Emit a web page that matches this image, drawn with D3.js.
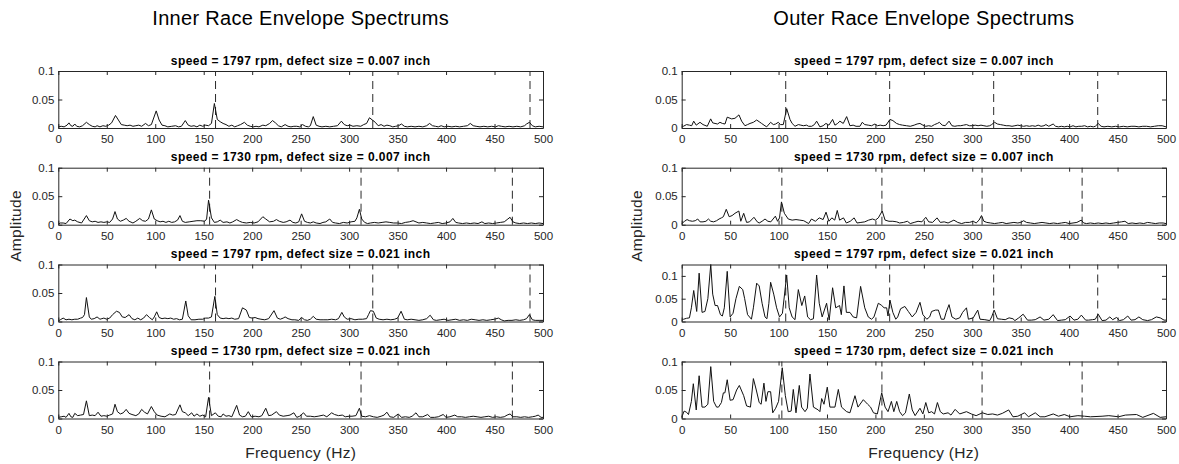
<!DOCTYPE html>
<html>
<head>
<meta charset="utf-8">
<script src="https://cdn.jsdelivr.net/npm/d3@7"></script>
<style>
  html, body { margin: 0; padding: 0; background: #fff; }
  svg { display: block; font-family: "Liberation Sans", Arial, Helvetica, sans-serif; }
</style>
</head>
<body>
<svg id="chart" width="1179" height="464"></svg>
<script>
// ---------------- DATA ----------------
const figureTitles = ["Inner Race Envelope Spectrums", "Outer Race Envelope Spectrums"];
const panelTitles = [
  "speed = 1797 rpm, defect size = 0.007 inch",
  "speed = 1730 rpm, defect size = 0.007 inch",
  "speed = 1797 rpm, defect size = 0.021 inch",
  "speed = 1730 rpm, defect size = 0.021 inch"
];
const xLabel = "Frequency (Hz)";
const yLabel = "Amplitude";
const freqTicks = [0, 50, 100, 150, 200, 250, 300, 350, 400, 450, 500];
const ampTicks = [0, 0.05, 0.1];
const freqDomain = [0, 500];
// y-axis upper limits: inner race rows 1-4, outer race rows 1-4
const innerYMax = [0.1, 0.1, 0.1, 0.1];
const outerYMax = [0.1, 0.1, 0.125, 0.1];

// fault characteristic frequencies and harmonics (Hz)
const bpfi1797 = [162.2, 324.4, 486.6];
const bpfi1730 = [156.1, 312.3, 468.4];
const bpfo1797 = [107.4, 214.7, 322.1, 429.5];
const bpfo1730 = [103.4, 206.7, 310.1, 413.4];

// envelope spectra: [frequency Hz, amplitude]
const inner1797_007 = [[0,.002],[3,.003],[6,.002],[9,.005],[11,.009],[13,.004],[15,.003],[17,.007],[19,.003],[22,.002],[25,.004],[29,.01],[32,.006],[35,.003],[38,.002],[40,.004],[43,.002],[46,.004],[49,.003],[52,.005],[55,.009],[59,.022],[62,.014],[65,.006],[68,.005],[71,.004],[74,.005],[77,.003],[80,.004],[83,.005],[86,.003],[90,.008],[93,.004],[96,.006],[101,.03],[104,.014],[107,.005],[110,.004],[113,.002],[117,.003],[121,.004],[124,.002],[127,.003],[131,.013],[134,.005],[137,.003],[140,.004],[143,.002],[146,.005],[149,.003],[152,.005],[155,.004],[158,.008],[161,.043],[164,.015],[167,.011],[170,.008],[173,.006],[176,.003],[179,.005],[182,.002],[185,.004],[188,.006],[192,.01],[195,.005],[198,.003],[201,.002],[204,.003],[207,.002],[211,.005],[214,.004],[218,.008],[221,.013],[224,.009],[227,.004],[230,.002],[234,.006],[237,.003],[240,.002],[243,.003],[246,.003],[249,.002],[252,.006],[255,.003],[258,.002],[260,.004],[263,.02],[266,.005],[269,.003],[272,.002],[276,.003],[280,.002],[284,.003],[288,.004],[292,.012],[295,.006],[298,.004],[301,.005],[304,.003],[308,.004],[312,.003],[315,.006],[318,.008],[321,.018],[324,.014],[327,.01],[330,.004],[333,.006],[336,.003],[339,.005],[342,.004],[345,.002],[348,.003],[351,.004],[354,.007],[357,.003],[360,.002],[364,.003],[368,.002],[372,.003],[376,.002],[380,.004],[383,.008],[386,.004],[389,.003],[392,.002],[395,.004],[398,.002],[402,.003],[406,.002],[410,.003],[414,.002],[418,.003],[422,.004],[425,.008],[428,.004],[431,.003],[435,.002],[439,.003],[443,.002],[447,.003],[451,.002],[454,.004],[457,.003],[461,.002],[465,.003],[469,.002],[473,.003],[477,.002],[481,.004],[483,.007],[486,.01],[489,.004],[492,.002],[496,.003],[500,.002]];

const inner1730_007 = [[0,.001],[2,.003],[5,.003],[8,.002],[12,.01],[15,.007],[17,.008],[20,.005],[24,.003],[29,.016],[32,.007],[35,.005],[38,.006],[41,.004],[44,.005],[47,.004],[50,.005],[53,.004],[56,.01],[58.5,.023],[61,.01],[64,.006],[67,.008],[70,.011],[73,.006],[77,.003],[80,.006],[84,.011],[87,.007],[90,.006],[93,.01],[96,.026],[99,.01],[102,.007],[105,.005],[108,.006],[111,.004],[114,.006],[117,.004],[120,.005],[123,.008],[125.5,.016],[128,.006],[131,.004],[135,.005],[139,.006],[143,.007],[147,.007],[151,.006],[153,.01],[155,.043],[158,.012],[161,.004],[164,.005],[167,.008],[170,.004],[174,.005],[177,.003],[180,.005],[184,.009],[187,.006],[190,.004],[194,.003],[198,.004],[202,.003],[206,.005],[211,.014],[214,.01],[218,.005],[222,.006],[225,.009],[228,.006],[232,.004],[235,.005],[239,.008],[242,.004],[245,.003],[248,.005],[251,.019],[254,.006],[257,.004],[260,.003],[263,.005],[266,.003],[270,.002],[273,.004],[276,.005],[280,.01],[283,.004],[286,.003],[290,.002],[294,.004],[298,.003],[302,.005],[306,.006],[308,.012],[310.6,.027],[313,.01],[316,.004],[319,.002],[322,.003],[326,.004],[330,.003],[334,.004],[338,.005],[342,.004],[346,.003],[350,.003],[354,.002],[358,.004],[362,.005],[366,.007],[369,.005],[372,.003],[376,.004],[380,.003],[384,.002],[388,.003],[392,.004],[396,.002],[400,.003],[404,.005],[407,.011],[410,.004],[413,.003],[417,.002],[421,.003],[425,.002],[429,.003],[433,.002],[437,.005],[440,.002],[444,.003],[448,.002],[452,.003],[456,.004],[460,.005],[463,.009],[466,.013],[469,.005],[472,.003],[476,.002],[480,.003],[484,.002],[488,.003],[492,.002],[496,.003],[500,.002]];

const inner1797_021 = [[0,.001],[2,.003],[5,.006],[8,.003],[11,.004],[14,.003],[17,.004],[20,.004],[23,.006],[25,.007],[27,.012],[29,.042],[32,.008],[34,.004],[37,.005],[40,.008],[43,.004],[45,.005],[47,.006],[50,.004],[53,.006],[56,.012],[60,.018],[63,.016],[66,.008],[69,.007],[73,.012],[76,.005],[79,.003],[82,.006],[85,.003],[88,.006],[91,.012],[94,.007],[97,.003],[99,.008],[101.5,.017],[104,.007],[107,.005],[110,.006],[113,.005],[116,.006],[119,.004],[122,.005],[125,.003],[128,.004],[131.5,.036],[134,.01],[137,.003],[141,.003],[145,.004],[149,.004],[152,.006],[155,.006],[158,.008],[161.5,.044],[164,.012],[167,.006],[170,.005],[173,.006],[176,.005],[179,.006],[182,.004],[186,.005],[190,.024],[194,.02],[197,.007],[200,.006],[203,.007],[206,.005],[209,.004],[213,.003],[217,.005],[222.5,.019],[226,.006],[229,.004],[232,.006],[234,.008],[237,.005],[241,.003],[244,.003],[248,.002],[251,.007],[254,.003],[257,.002],[260,.004],[263,.009],[266,.004],[270,.003],[274,.003],[278,.003],[282,.004],[286,.003],[289,.005],[292.5,.016],[295,.008],[298,.004],[302,.005],[306,.003],[310,.004],[314,.004],[318,.005],[320,.012],[322,.019],[325,.018],[328,.006],[331,.004],[335,.003],[339,.004],[343,.003],[347,.004],[350,.006],[353.6,.018],[357,.004],[360,.003],[364,.004],[368,.003],[372,.002],[376,.003],[380,.005],[383.6,.011],[387,.003],[390,.002],[394,.003],[398,.004],[402,.002],[406,.003],[410,.004],[414,.002],[418,.003],[422,.002],[426,.004],[430,.003],[434,.002],[438,.003],[442,.002],[446,.003],[450,.004],[454,.006],[457,.003],[460,.001],[464,.002],[468,.002],[472,.003],[476,.002],[480,.003],[483,.005],[486,.012],[489,.003],[492,.002],[496,.002],[500,.002]];

const inner1730_021 = [[0,.002],[3,.003],[6,.004],[8,.002],[11,.009],[13,.003],[15,.002],[17,.009],[20,.005],[23,.006],[26,.007],[29,.031],[32,.005],[35,.006],[38,.005],[41,.011],[44,.004],[47,.005],[50,.004],[53,.006],[56,.008],[58.5,.025],[61,.012],[64,.008],[67,.01],[70,.016],[73,.009],[76,.007],[80,.005],[83,.008],[86,.016],[89,.011],[92,.008],[96,.021],[99,.012],[102,.006],[106,.004],[110,.003],[115,.008],[118,.006],[121,.007],[125.5,.024],[128,.012],[131,.01],[134,.005],[137.6,.01],[140,.004],[143,.008],[146,.004],[149,.006],[152,.003],[155,.037],[158,.005],[162,.01],[165,.004],[168,.003],[170,.008],[173,.004],[176,.005],[179,.003],[184,.023],[187,.006],[190,.003],[193,.004],[196,.012],[199,.003],[203,.004],[207,.003],[210,.005],[214,.018],[217,.005],[220,.006],[225,.012],[228,.006],[232,.004],[236,.005],[239,.006],[243,.01],[246,.002],[249,.004],[253,.01],[256,.004],[260,.004],[264,.003],[268,.004],[273.5,.006],[277,.003],[282,.01],[285,.007],[289,.005],[293,.006],[296,.003],[300,.004],[303,.004],[307,.005],[310.6,.018],[313,.004],[317,.003],[321,.005],[325,.003],[329,.002],[333,.004],[336,.006],[339,.011],[342,.003],[346,.002],[350.7,.008],[354,.002],[358,.003],[362,.002],[365,.004],[369,.01],[372,.003],[376,.003],[381,.007],[384,.002],[388,.002],[392,.003],[397,.007],[400,.002],[404,.003],[409,.006],[412,.003],[416,.003],[420,.002],[424,.003],[428,.004],[432,.003],[436,.002],[440,.003],[444,.004],[448,.002],[452,.003],[456,.002],[460,.003],[463,.006],[466,.008],[469,.003],[473,.003],[477,.002],[481,.003],[485,.002],[489,.003],[492,.004],[495,.006],[498,.002],[500,.002]];

const outer1797_007 = [[0,.002],[1.7,.003],[5,.006],[8,.005],[10.3,.004],[12.4,.012],[15,.005],[18.9,.01],[22,.006],[26.4,.003],[29.9,.016],[32,.009],[34.4,.008],[37,.007],[39.5,.01],[42,.008],[44.7,.007],[47,.019],[51.6,.016],[55,.017],[59.1,.023],[61.9,.012],[65.3,.004],[68,.006],[70.5,.008],[74,.01],[77.4,.014],[80,.011],[82.5,.008],[85,.005],[87.7,.002],[91.8,.01],[94.6,.006],[97,.007],[99.7,.01],[102,.006],[104.9,.006],[108.4,.034],[111.8,.015],[114,.008],[117,.003],[120.4,.006],[123,.005],[125.6,.004],[129,.005],[131,.003],[134.2,.003],[137,.006],[139.3,.012],[142.7,.002],[146,.004],[148.9,.008],[152,.005],[155.8,.015],[158.2,.005],[161,.008],[163.3,.012],[166.8,.008],[170.3,.02],[173.7,.004],[177,.005],[180,.003],[184,.003],[186.4,.01],[189,.006],[192.6,.005],[196,.004],[199.5,.007],[202,.004],[205,.005],[208,.004],[211,.005],[215,.015],[218,.013],[221.8,.008],[225,.006],[228,.005],[232,.004],[236,.003],[240,.005],[243,.007],[246,.008],[249,.005],[252,.003],[255,.004],[258,.003],[261,.006],[264,.008],[266,.01],[269,.005],[272,.004],[276,.012],[279,.004],[282,.003],[285,.004],[288,.004],[291,.005],[294,.006],[297,.004],[300,.004],[303,.005],[306,.004],[309,.005],[312,.004],[315,.003],[318,.004],[320,.006],[323,.01],[326,.007],[329,.006],[332,.005],[335,.004],[338,.004],[341,.003],[344,.004],[347,.005],[350,.004],[353,.003],[356,.004],[359,.003],[362,.004],[365,.003],[368,.005],[371,.003],[374,.004],[376,.006],[379,.003],[383.5,.007],[386,.003],[389,.002],[392,.003],[395,.002],[398,.003],[401,.002],[404,.004],[407,.002],[410,.003],[413,.003],[416,.004],[419,.002],[422,.003],[425,.002],[427,.003],[430,.008],[433,.003],[436,.002],[440,.003],[444,.002],[448,.003],[452,.002],[456,.003],[460,.002],[464,.003],[468,.003],[472,.002],[476,.003],[480,.003],[484,.002],[488,.003],[492,.004],[496,.004],[500,.002]];

const outer1730_007 = [[0,.002],[3,.006],[5.5,.009],[8,.007],[11,.006],[14,.007],[16.5,.01],[19,.005],[22,.005],[25,.006],[27.6,.01],[30,.006],[33,.005],[36,.007],[38.6,.01],[41,.012],[43,.014],[46,.027],[49,.014],[52,.016],[55,.02],[59,.024],[61,.006],[64,.02],[67,.004],[70,.005],[74.6,.013],[78,.005],[80,.003],[83,.006],[86,.01],[89,.006],[92,.005],[96.7,.015],[99,.006],[101,.012],[103,.04],[106,.02],[110,.01],[114,.008],[118,.009],[122,.008],[126,.007],[131,.002],[134,.01],[138,.006],[142,.012],[146,.009],[149,.022],[152,.006],[155,.012],[158,.008],[160.6,.025],[163,.008],[167,.012],[170,.003],[174,.006],[178,.012],[181,.003],[185,.004],[189,.005],[193,.008],[197,.01],[200,.008],[203,.012],[207,.024],[210,.008],[214,.006],[218,.006],[222,.005],[225,.003],[229,.004],[233,.006],[236,.002],[240,.004],[244,.006],[248,.005],[252,.013],[255,.005],[259,.004],[263.6,.012],[267,.004],[271,.005],[275,.003],[281,.008],[285,.004],[289,.002],[293,.004],[297,.004],[301,.006],[304,.003],[307,.008],[309.5,.016],[312,.006],[315,.004],[319,.003],[323,.002],[327,.003],[331,.004],[335,.002],[339,.003],[343,.004],[347,.003],[350,.004],[353,.007],[356,.004],[360,.003],[364,.002],[368,.003],[372,.004],[376,.003],[380,.002],[384,.003],[388,.002],[392,.003],[396,.004],[400,.002],[404,.003],[408,.004],[412.5,.008],[415,.003],[418,.002],[422,.003],[426,.002],[430,.003],[434,.002],[438,.003],[442,.002],[446,.003],[450,.004],[454,.005],[457.6,.006],[461,.002],[465,.003],[469,.002],[473,.003],[477,.002],[481,.004],[485,.003],[489,.002],[493,.003],[497,.003],[500,.002]];

const outer1797_021 = [[0,.003],[2,.005],[5,.007],[8,.008],[10,.03],[12.4,.068],[15.5,.022],[18,.106],[21,.02],[24,.022],[27,.05],[30,.125],[32,.06],[34.5,.035],[37,.035],[40,.015],[42,.012],[44,.03],[47,.11],[50,.01],[53,.018],[56,.05],[59.5,.077],[63,.07],[65,.05],[68,.015],[72,.005],[74,.03],[77.4,.084],[80,.078],[83,.04],[86,.01],[88,.006],[90,.04],[91.8,.086],[95,.06],[98,.03],[101,.01],[104,.018],[108.4,.102],[111,.03],[114,.01],[117,.004],[120.4,.07],[124,.035],[127,.056],[130,.01],[133,.004],[136,.006],[139.3,.102],[142,.04],[145,.01],[149.6,.04],[152.3,.003],[155.8,.074],[159,.03],[163,.035],[164.8,.015],[167.5,.078],[170,.02],[173.7,.02],[177,.01],[180.6,.008],[184.7,.077],[189,.03],[192.6,.01],[196,.005],[198.5,.01],[203,.04],[206,.036],[209,.03],[211.6,.03],[213,.012],[215,.047],[218,.02],[221,.005],[223,.01],[226,.028],[230.4,.033],[234,.022],[238,.01],[242,.02],[246,.042],[249,.015],[253,.005],[256,.01],[258,.022],[262,.025],[265,.025],[268,.005],[271,.005],[273,.02],[276,.037],[279,.01],[283,.005],[287,.008],[290,.02],[294,.03],[296,.005],[301,.008],[305.6,.025],[308,.005],[313,.004],[318,.002],[320,.01],[322.6,.025],[326,.006],[330,.005],[334,.004],[338,.008],[342,.006],[344,.002],[348,.008],[352.5,.016],[357,.003],[361,.003],[365,.004],[370,.01],[374,.003],[379,.005],[383.5,.015],[388,.002],[392,.003],[396,.004],[401,.012],[405,.003],[409,.005],[412.6,.014],[417,.003],[420,.003],[424,.004],[427,.005],[430,.016],[434,.002],[438,.003],[442,.01],[445,.004],[449,.009],[452,.002],[456,.004],[460.5,.012],[464,.003],[468,.004],[472,.01],[476,.004],[481,.002],[485,.004],[490,.01],[494,.008],[498,.003],[500,.003]];

const outer1730_021 = [[0,.002],[2.5,.013],[5,.011],[7,.007],[10,.03],[12,.061],[15,.015],[18,.075],[21,.02],[24,.02],[27,.025],[30,.091],[33,.03],[36,.02],[38,.02],[41,.028],[43,.045],[44.6,.045],[47,.068],[50,.032],[53,.033],[56.7,.05],[59.5,.058],[64,.04],[67,.022],[71,.02],[74,.07],[77,.05],[80,.028],[82,.025],[84.9,.062],[87,.03],[89,.047],[91.8,.047],[94,.01],[97,.018],[100,.03],[103.8,.089],[107,.04],[110,.012],[113,.013],[115.2,.051],[118,.01],[121.4,.058],[123.8,.02],[127.3,.012],[129.7,.018],[132.4,.078],[136,.02],[141,.015],[142.7,.012],[144.5,.035],[146.9,.025],[150.3,.055],[153,.02],[158.2,.02],[161.7,.051],[165,.02],[170.3,.012],[173.7,.01],[178.9,.04],[182,.02],[187.5,.033],[192,.025],[195,.02],[198,.01],[202,.008],[206.5,.045],[210,.02],[213,.012],[216.5,.03],[219,.012],[222,.03],[225,.012],[228,.005],[231,.01],[235,.043],[238,.015],[241,.005],[246,.018],[249,.008],[252,.028],[255,.01],[258,.012],[261,.008],[264,.028],[267,.012],[270,.008],[275,.01],[278,.006],[282.3,.016],[287,.008],[294,.012],[299,.008],[304,.005],[310.5,.01],[316,.007],[321,.008],[326,.006],[331,.009],[337.6,.015],[342,.003],[347,.004],[354,.01],[358,.003],[365,.01],[370,.003],[375,.003],[383.6,.008],[389,.004],[395,.007],[401,.003],[409,.005],[416,.004],[422,.003],[434,.004],[441,.005],[451,.003],[458,.006],[469.5,.007],[476,.002],[487,.009],[494,.002],[500,.003]];

// ---------------- LAYOUT ----------------
const svg = d3.select("#chart");
const cols = [{x0: 58.3, x1: 543}, {x0: 681.7, x1: 1166}];
const rowTops = [71, 167.7, 264.5, 361.5];
const rowH = 57;
const textColor = "#262626";

const panels = [
  {col: 0, row: 0, data: inner1797_007, faults: bpfi1797, ymax: innerYMax[0]},
  {col: 0, row: 1, data: inner1730_007, faults: bpfi1730, ymax: innerYMax[1]},
  {col: 0, row: 2, data: inner1797_021, faults: bpfi1797, ymax: innerYMax[2]},
  {col: 0, row: 3, data: inner1730_021, faults: bpfi1730, ymax: innerYMax[3]},
  {col: 1, row: 0, data: outer1797_007, faults: bpfo1797, ymax: outerYMax[0]},
  {col: 1, row: 1, data: outer1730_007, faults: bpfo1730, ymax: outerYMax[1]},
  {col: 1, row: 2, data: outer1797_021, faults: bpfo1797, ymax: outerYMax[2]},
  {col: 1, row: 3, data: outer1730_021, faults: bpfo1730, ymax: outerYMax[3]}
];

const fmt = d => d3.format("~g")(d);

panels.forEach(p => {
  const c = cols[p.col];
  const top = rowTops[p.row], bottom = top + rowH;
  const x = d3.scaleLinear().domain(freqDomain).range([c.x0, c.x1]);
  const y = d3.scaleLinear().domain([0, p.ymax]).range([bottom, top]);
  const g = svg.append("g");

  // fault frequency markers (dashed)
  g.selectAll("line.fault").data(p.faults).join("line")
    .attr("class", "fault")
    .attr("x1", d => x(d)).attr("x2", d => x(d))
    .attr("y1", y(0)).attr("y2", y(p.ymax))
    .attr("stroke", "#2a2a2a").attr("stroke-width", 1)
    .attr("stroke-dasharray", "8,5");

  // spectrum line
  g.append("path").datum(p.data)
    .attr("fill", "none").attr("stroke", "#111").attr("stroke-width", 1)
    .attr("stroke-linejoin", "round")
    .attr("d", d3.line().x(d => x(d[0])).y(d => y(d[1])));

  // axes
  const styleAxis = sel => {
    sel.attr("font-family", null).attr("font-size", null);
    sel.selectAll("path.domain").attr("stroke", textColor).attr("stroke-width", 1);
    sel.selectAll(".tick line").attr("stroke", textColor).attr("stroke-width", 1);
    sel.selectAll(".tick text").attr("fill", textColor)
      .style("font-size", "11.5px").style("font-family", '"Liberation Sans", Arial, sans-serif');
  };
  g.append("g").attr("transform", `translate(0,${bottom})`)
    .call(d3.axisBottom(x).tickValues(freqTicks).tickFormat(fmt).tickSize(-4).tickSizeOuter(0).tickPadding(7))
    .call(styleAxis);
  g.append("g").attr("transform", `translate(0,${top})`)
    .call(d3.axisTop(x).tickValues(freqTicks).tickFormat("").tickSize(-4).tickSizeOuter(0))
    .call(styleAxis);
  g.append("g").attr("transform", `translate(${c.x0},0)`)
    .call(d3.axisLeft(y).tickValues(ampTicks).tickFormat(fmt).tickSize(-4).tickSizeOuter(0).tickPadding(4))
    .call(styleAxis);
  g.append("g").attr("transform", `translate(${c.x1},0)`)
    .call(d3.axisRight(y).tickValues(ampTicks).tickFormat("").tickSize(-4).tickSizeOuter(0))
    .call(styleAxis);

  // panel title
  g.append("text")
    .attr("x", (c.x0 + c.x1) / 2).attr("y", top - 6.5)
    .attr("text-anchor", "middle").attr("font-weight", "bold")
    .attr("font-size", "12px").attr("letter-spacing", "0.45px")
    .attr("fill", "#000")
    .text(panelTitles[p.row]);
});

cols.forEach((c, i) => {
  const cx = (c.x0 + c.x1) / 2;
  svg.append("text").attr("x", cx).attr("y", 25)
    .attr("text-anchor", "middle").attr("font-size", "20px").attr("letter-spacing", "0.3px")
    .attr("fill", "#000").text(figureTitles[i]);
  svg.append("text").attr("x", cx).attr("y", 458)
    .attr("text-anchor", "middle").attr("font-size", "15.5px").attr("letter-spacing", "0.3px")
    .attr("fill", textColor).text(xLabel);
  const lx = i === 0 ? 20.5 : 641.5;
  svg.append("text").attr("transform", `translate(${lx},226) rotate(-90)`)
    .attr("text-anchor", "middle").attr("font-size", "15.5px").attr("letter-spacing", "0.3px")
    .attr("fill", textColor).text(yLabel);
});
</script>
</body>
</html>
